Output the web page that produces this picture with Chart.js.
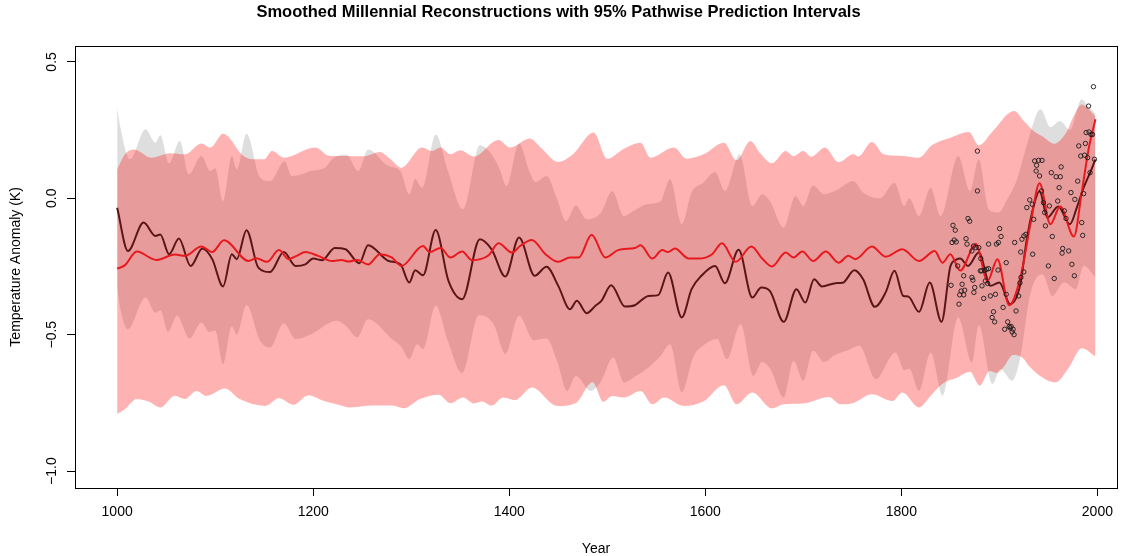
<!DOCTYPE html>
<html>
<head>
<meta charset="utf-8">
<script src="https://cdn.jsdelivr.net/npm/chart.js@4.4.1/dist/chart.umd.min.js"></script>
<style>
  body { margin: 0; background: #fff; }
</style>
</head>
<body>
<canvas id="recon" width="1129" height="556"></canvas>
<script>
// smoothed reconstruction (dark red) and its 95% band (grey)
const maroonYears = [1000,1011,1027,1039,1044,1053,1063,1075,1087,1097,1108,1117,1122,1132,1144,1156,1170,1182,1192,1200,1209,1222,1233,1247,1256,1277,1289,1298,1304,1312,1325,1338,1352,1370,1382,1396,1410,1426,1438,1450,1462,1469,1479,1488,1494,1504,1518,1528,1542,1552,1562,1576,1586,1596,1610,1620,1634,1648,1657,1666,1680,1693,1702,1711,1719,1733,1740,1752,1761,1773,1784,1793,1802,1807,1818,1829,1841,1850,1856,1860,1868,1879,1891,1900,1911,1921,1928,1935,1941,1949,1960,1972,1979,1986,1994,1998];
const maroonVals = [-0.035,-0.193,-0.089,-0.138,-0.133,-0.205,-0.147,-0.248,-0.184,-0.223,-0.323,-0.205,-0.223,-0.117,-0.254,-0.27,-0.197,-0.248,-0.242,-0.221,-0.227,-0.182,-0.187,-0.238,-0.172,-0.23,-0.242,-0.309,-0.264,-0.282,-0.116,-0.303,-0.37,-0.15,-0.187,-0.287,-0.144,-0.284,-0.251,-0.321,-0.407,-0.376,-0.421,-0.394,-0.376,-0.319,-0.397,-0.392,-0.358,-0.355,-0.272,-0.437,-0.333,-0.284,-0.248,-0.311,-0.189,-0.364,-0.327,-0.34,-0.453,-0.333,-0.382,-0.297,-0.323,-0.311,-0.31,-0.264,-0.297,-0.398,-0.345,-0.266,-0.358,-0.36,-0.416,-0.309,-0.453,-0.25,-0.225,-0.221,-0.248,-0.199,-0.321,-0.309,-0.388,-0.321,-0.15,-0.028,0.027,-0.071,-0.03,-0.095,-0.034,0.039,0.106,0.143];

const greyUpYears = [1000,1003,1013,1029,1039,1044,1053,1064,1073,1086,1095,1100,1108,1117,1122,1132,1146,1156,1171,1178,1190,1197,1211,1221,1234,1246,1256,1277,1289,1298,1304,1311,1325,1337,1353,1370,1382,1391,1397,1410,1421,1427,1438,1449,1458,1468,1479,1494,1505,1517,1527,1540,1554,1564,1576,1586,1598,1610,1620,1635,1648,1658,1666,1680,1692,1700,1710,1721,1734,1751,1761,1778,1793,1803,1808,1818,1830,1840,1858,1870,1879,1889,1899,1908,1918,1930,1942,1952,1962,1972,1984,1990,1998];
const greyUpVals = [0.332,0.265,0.143,0.253,0.204,0.231,0.128,0.21,0.088,0.155,0.1,0.11,-0.01,0.155,0.106,0.237,0.076,0.063,0.137,0.082,0.09,0.1,0.11,0.149,0.16,0.1,0.179,0.118,0.1,0.015,0.072,0.039,0.234,0.106,-0.04,0.194,0.161,0.1,0.045,0.201,0.094,0.06,0.082,-0.004,-0.083,-0.026,-0.077,-0.05,0.027,-0.065,-0.046,-0.022,-0.013,0.07,-0.095,0.021,0.057,0.096,0.027,0.161,-0.028,0.015,-0.01,-0.107,0.008,-0.028,0.048,0.015,0.03,0.063,0.021,0.0,0.057,-0.028,0.0,-0.065,0.039,-0.065,0.155,0.027,0.143,-0.04,-0.052,-0.004,0.07,0.22,0.326,0.26,0.283,0.25,0.363,0.34,0.31];

const greyLowYears = [1000,1003,1011,1029,1039,1044,1052,1061,1074,1086,1094,1100,1108,1117,1122,1132,1146,1156,1170,1182,1197,1224,1234,1245,1256,1280,1290,1298,1306,1312,1325,1337,1352,1369,1384,1396,1410,1425,1438,1449,1459,1468,1483,1494,1506,1517,1530,1542,1554,1564,1576,1588,1598,1612,1622,1636,1649,1658,1667,1680,1690,1700,1710,1721,1732,1748,1757,1774,1794,1803,1808,1818,1830,1842,1858,1872,1879,1893,1901,1913,1921,1932,1944,1954,1966,1978,1986,1998];
const greyLowVals = [-0.321,-0.4,-0.48,-0.364,-0.42,-0.41,-0.49,-0.431,-0.514,-0.455,-0.49,-0.485,-0.608,-0.47,-0.5,-0.392,-0.523,-0.547,-0.458,-0.516,-0.5,-0.449,-0.47,-0.51,-0.443,-0.515,-0.545,-0.59,-0.535,-0.553,-0.394,-0.52,-0.64,-0.429,-0.462,-0.571,-0.431,-0.52,-0.514,-0.6,-0.706,-0.651,-0.706,-0.67,-0.584,-0.675,-0.65,-0.62,-0.58,-0.535,-0.712,-0.58,-0.54,-0.516,-0.59,-0.462,-0.651,-0.6,-0.63,-0.73,-0.596,-0.669,-0.559,-0.6,-0.575,-0.553,-0.541,-0.663,-0.565,-0.63,-0.625,-0.706,-0.565,-0.724,-0.437,-0.602,-0.465,-0.681,-0.626,-0.669,-0.59,-0.345,-0.278,-0.358,-0.309,-0.333,-0.248,-0.29];

// second reconstruction (red) and its 95% band (pink)
const redYears = [1000,1008,1020,1040,1059,1069,1086,1097,1109,1134,1142,1153,1165,1175,1183,1192,1205,1219,1229,1236,1245,1256,1268,1280,1290,1312,1319,1330,1340,1352,1362,1379,1389,1403,1411,1423,1437,1450,1462,1471,1484,1498,1511,1529,1534,1546,1556,1562,1569,1583,1593,1607,1617,1631,1647,1658,1668,1682,1690,1699,1710,1723,1736,1746,1753,1770,1784,1801,1818,1834,1842,1850,1860,1876,1888,1898,1910,1921,1932,1941,1952,1962,1976,1984,1991,1998];
const redVals = [-0.258,-0.245,-0.195,-0.226,-0.206,-0.211,-0.177,-0.197,-0.154,-0.23,-0.22,-0.233,-0.19,-0.223,-0.211,-0.197,-0.211,-0.23,-0.226,-0.232,-0.226,-0.243,-0.205,-0.217,-0.248,-0.175,-0.197,-0.182,-0.217,-0.195,-0.227,-0.209,-0.165,-0.199,-0.175,-0.153,-0.205,-0.233,-0.217,-0.217,-0.134,-0.217,-0.19,-0.181,-0.172,-0.221,-0.19,-0.197,-0.184,-0.221,-0.221,-0.205,-0.165,-0.233,-0.177,-0.221,-0.25,-0.199,-0.217,-0.195,-0.23,-0.195,-0.236,-0.211,-0.223,-0.177,-0.214,-0.187,-0.23,-0.193,-0.236,-0.205,-0.265,-0.168,-0.303,-0.223,-0.392,-0.297,-0.089,0.055,-0.095,-0.03,-0.14,0.021,0.18,0.29];

const pinkUpYears = [1000,1008,1017,1035,1054,1069,1086,1095,1108,1129,1139,1150,1158,1170,1202,1217,1234,1251,1268,1279,1290,1311,1321,1330,1340,1350,1364,1389,1401,1421,1432,1450,1465,1486,1500,1517,1534,1544,1568,1581,1598,1619,1632,1646,1656,1668,1682,1690,1700,1708,1722,1736,1751,1756,1770,1782,1801,1818,1831,1850,1869,1879,1893,1915,1925,1935,1945,1956,1968,1977,1984,1990,1998];
const pinkUpVals = [0.106,0.161,0.179,0.149,0.165,0.161,0.201,0.186,0.237,0.155,0.143,0.143,0.173,0.149,0.186,0.155,0.155,0.154,0.17,0.143,0.112,0.186,0.173,0.186,0.161,0.176,0.153,0.214,0.186,0.219,0.186,0.133,0.161,0.241,0.145,0.182,0.204,0.149,0.186,0.145,0.161,0.204,0.14,0.21,0.165,0.128,0.173,0.154,0.173,0.152,0.186,0.132,0.161,0.153,0.206,0.161,0.155,0.149,0.194,0.222,0.243,0.194,0.245,0.32,0.283,0.247,0.225,0.2,0.24,0.31,0.344,0.33,0.3];

const pinkLowYears = [1000,1008,1020,1033,1044,1059,1069,1081,1091,1110,1125,1151,1165,1180,1195,1211,1224,1238,1260,1281,1292,1309,1328,1340,1353,1364,1372,1382,1394,1406,1423,1449,1468,1485,1496,1505,1517,1534,1546,1558,1578,1598,1619,1632,1648,1668,1680,1700,1726,1738,1751,1770,1791,1801,1818,1830,1842,1857,1870,1880,1890,1897,1904,1914,1924,1930,1944,1957,1971,1984,1998];
const pinkLowVals = [-0.791,-0.773,-0.736,-0.747,-0.767,-0.724,-0.736,-0.706,-0.724,-0.697,-0.736,-0.761,-0.733,-0.757,-0.722,-0.743,-0.755,-0.767,-0.76,-0.76,-0.77,-0.736,-0.72,-0.751,-0.73,-0.752,-0.745,-0.76,-0.73,-0.74,-0.694,-0.761,-0.75,-0.674,-0.746,-0.725,-0.73,-0.706,-0.755,-0.73,-0.761,-0.745,-0.685,-0.755,-0.712,-0.77,-0.755,-0.752,-0.728,-0.755,-0.75,-0.718,-0.743,-0.712,-0.767,-0.724,-0.68,-0.657,-0.636,-0.687,-0.633,-0.64,-0.62,-0.574,-0.585,-0.614,-0.657,-0.675,-0.62,-0.55,-0.58];

// instrumental record
const obsYears = [1850.7,1851.7,1852.7,1854,1855,1856,1857.5,1858.8,1859.5,1861,1862,1863.6,1863.6,1864.6,1866,1867,1868,1869.7,1872,1872,1873,1873.6,1874,1874.8,1876,1877.6,1877.6,1879,1880.6,1881,1882,1882.3,1884,1885,1885.7,1887,1888,1889,1889,1890.8,1892.6,1894,1895.2,1896,1897,1898.6,1899,1900.3,1901.7,1903.8,1905.4,1907,1907,1908.5,1910,1911,1912,1913,1914,1915,1915.6,1917,1919.7,1921,1921.8,1922,1923,1925,1925,1927,1928,1931,1933.5,1934,1935,1936,1937.5,1938,1940,1941,1943,1943.5,1945,1946.2,1947,1950,1951,1953,1954,1956,1957.9,1959.5,1961,1962.2,1963,1964,1964.6,1966.3,1968,1970.7,1973,1974,1976.5,1977,1979.9,1981,1983,1984,1985,1986,1986.9,1987.8,1988.5,1990,1991,1991.5,1992.5,1993.5,1995,1996,1997];
const obsVals = [-0.319,-0.162,-0.099,-0.153,-0.117,-0.16,-0.248,-0.388,-0.354,-0.34,-0.315,-0.354,-0.284,-0.337,-0.148,-0.168,-0.074,-0.084,-0.29,-0.193,-0.3,-0.175,-0.345,-0.327,-0.181,0.173,0.027,-0.181,-0.266,-0.221,-0.266,-0.321,-0.367,-0.264,-0.303,-0.26,-0.312,-0.258,-0.168,-0.358,-0.437,-0.416,-0.453,-0.352,-0.168,-0.263,-0.162,-0.111,-0.14,-0.4,-0.48,-0.352,-0.236,-0.453,-0.47,-0.475,-0.47,-0.49,-0.48,-0.5,-0.162,-0.413,-0.358,-0.31,-0.197,-0.29,-0.15,-0.27,-0.138,-0.132,-0.034,-0.006,-0.022,-0.205,-0.077,0.137,0.1,0.121,0.139,0.082,0.027,0.139,-0.016,-0.052,-0.101,-0.248,-0.028,0.094,-0.14,-0.294,0.079,-0.01,0.039,0.079,0.115,-0.201,-0.184,-0.046,-0.074,-0.193,0.021,-0.242,-0.284,-0.004,0.063,0.192,0.155,-0.089,-0.136,0.017,0.158,0.201,0.241,0.149,0.338,0.243,0.094,0.234,0.234,0.409,0.143];

const xTicks = [1000, 1200, 1400, 1600, 1800, 2000];
const yTicks = [-1.0, -0.5, 0.0, 0.5];
const yTickLabels = ['\u22121.0', '\u22120.5', '0.0', '0.5'];

const FONT = '"Liberation Sans", Arial, Helvetica, sans-serif';
const pts = (xs, ys) => xs.map((x, i) => ({x: x, y: ys[i]}));

// box around the plot and R-style rotated y labels
const frame = {
  id: 'frame',
  afterDraw(chart) {
    const {ctx, chartArea: a, scales} = chart;
    ctx.save();
    ctx.strokeStyle = '#000';
    ctx.lineWidth = 1;
    ctx.strokeRect(Math.round(a.left) + 0.5, Math.round(a.top) + 0.5,
      Math.round(a.right - a.left), Math.round(a.bottom - a.top));
    ctx.fillStyle = '#000';
    ctx.font = '14px ' + FONT;
    ctx.textAlign = 'center';
    ctx.textBaseline = 'middle';
    yTicks.forEach((v, i) => {
      ctx.save();
      ctx.translate(52, scales.y.getPixelForValue(v));
      ctx.rotate(-Math.PI / 2);
      ctx.fillText(yTickLabels[i], 0, 0);
      ctx.restore();
    });
    ctx.restore();
  }
};

const band = (label, xs, ys, color, fill) => ({
  label: label,
  data: pts(xs, ys),
  borderWidth: 0,
  pointRadius: 0,
  backgroundColor: color,
  fill: fill,
  cubicInterpolationMode: 'monotone'
});

new Chart(document.getElementById('recon'), {
  type: 'line',
  data: {
    datasets: [
      {
        label: 'Observed',
        data: pts(obsYears, obsVals),
        showLine: false,
        pointRadius: 2.2,
        pointBorderWidth: 0.9,
        pointBorderColor: '#1a1a1a',
        pointBackgroundColor: 'rgba(0,0,0,0)'
      },
      {
        label: 'Reconstruction 2',
        data: pts(redYears, redVals),
        borderColor: '#e8191e',
        borderWidth: 2,
        pointRadius: 0,
        fill: false,
        cubicInterpolationMode: 'monotone'
      },
      {
        label: 'Reconstruction 1',
        data: pts(maroonYears, maroonVals),
        borderColor: '#5a1616',
        borderWidth: 2,
        pointRadius: 0,
        fill: false,
        cubicInterpolationMode: 'monotone'
      },
      band('Pink upper', pinkUpYears, pinkUpVals, 'rgba(255,0,0,0.3)', '+1'),
      band('Pink lower', pinkLowYears, pinkLowVals, 'rgba(0,0,0,0)', false),
      band('Grey upper', greyUpYears, greyUpVals, 'rgba(0,0,0,0.13)', '+1'),
      band('Grey lower', greyLowYears, greyLowVals, 'rgba(0,0,0,0)', false)
    ]
  },
  options: {
    responsive: false,
    animation: false,
    layout: { padding: { left: 0, right: 12, top: 0, bottom: 0 } },
    plugins: {
      legend: { display: false },
      tooltip: { enabled: false },
      title: {
        display: true,
        text: 'Smoothed Millennial Reconstructions with 95% Pathwise Prediction Intervals',
        color: '#000',
        font: { family: FONT, size: 16.5, weight: 'bold' },
        padding: { top: 3, bottom: 23 }
      }
    },
    scales: {
      x: {
        type: 'linear',
        min: 957,
        max: 2020,
        afterFit: (s) => { s.height = 68; },
        afterBuildTicks: (s) => { s.ticks = xTicks.map(v => ({value: v})); },
        ticks: {
          color: '#000',
          font: { family: FONT, size: 14 },
          padding: 8,
          maxRotation: 0,
          callback: (v) => String(v)
        },
        grid: { drawOnChartArea: false, drawTicks: true, tickLength: 8, color: '#000' },
        border: { display: false },
        title: {
          display: true,
          text: 'Year',
          color: '#000',
          font: { family: FONT, size: 14 },
          padding: { top: 0, bottom: -2 }
        }
      },
      y: {
        type: 'linear',
        min: -1.062,
        max: 0.559,
        afterFit: (s) => { s.width = 75; },
        afterBuildTicks: (s) => { s.ticks = yTicks.map(v => ({value: v})); },
        ticks: { display: false },
        grid: { drawOnChartArea: false, drawTicks: true, tickLength: 8, color: '#000' },
        border: { display: false },
        title: {
          display: true,
          text: 'Temperature Anomaly (K)',
          color: '#000',
          font: { family: FONT, size: 14 },
          padding: { top: 8, bottom: 0 }
        }
      }
    }
  },
  plugins: [frame]
});
</script>
</body>
</html>
